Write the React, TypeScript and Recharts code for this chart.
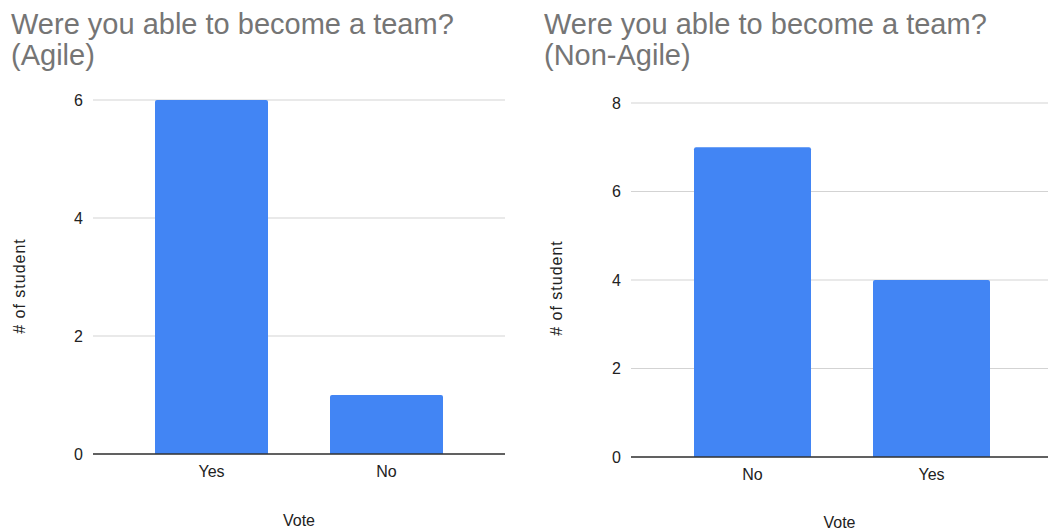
import { BarChart, Bar, XAxis, YAxis, CartesianGrid, Label } from 'recharts';

// Agile survey
const agileVotes = ['Yes', 'No'];
const agileCounts = [6, 1];
const agileTicks = [0, 2, 4, 6];

// Non-agile survey
const nonAgileVotes = ['No', 'Yes'];
const nonAgileCounts = [7, 4];
const nonAgileTicks = [0, 2, 4, 6, 8];

const FONT = 'Arial, "Liberation Sans", sans-serif';
const BLUE = '#4285f4';
const GRID = '#d3d3d3';
const TEXT = '#222222';

const agileData = agileVotes.map((vote, i) => ({ vote, count: agileCounts[i] }));
const nonAgileData = nonAgileVotes.map((vote, i) => ({ vote, count: nonAgileCounts[i] }));

const tickStyle = { fill: TEXT, fontSize: 16, fontFamily: FONT };

function yTitle(x: number, y: number) {
  return () => (
    <text
      x={x}
      y={y}
      dy="0.35em"
      transform={`rotate(-90, ${x}, ${y})`}
      textAnchor="middle"
      fill={TEXT}
      fontSize={16}
      fontFamily={FONT}
      letterSpacing={1}
    >
      # of student
    </text>
  );
}

function Title({ left, sub }: { left: number; sub: string }) {
  return (
    <div
      style={{
        position: 'absolute',
        left,
        top: 9,
        fontFamily: FONT,
        fontSize: 29,
        lineHeight: '31px',
        color: '#757575',
        whiteSpace: 'nowrap',
        zIndex: 2,
      }}
    >
      Were you able to become a team?
      <br />
      {sub}
    </div>
  );
}

export default function App() {
  return (
    <div
      style={{
        position: 'absolute',
        left: 0,
        top: 0,
        width: 1048,
        height: 532,
        background: '#fff',
        overflow: 'hidden',
      }}
    >
      <Title left={11} sub="(Agile)" />
      <Title left={544} sub="(Non-Agile)" />

      <div style={{ position: 'absolute', left: 0, top: 0 }}>
        <BarChart
          width={520}
          height={532}
          data={agileData}
          margin={{ top: 100, right: 15, bottom: 0, left: 0 }}
        >
          <CartesianGrid horizontal vertical={false} stroke={GRID} />
          <XAxis
            dataKey="vote"
            height={78}
            padding={{ left: 31, right: 31 }}
            tickLine={false}
            tickSize={0}
            tickMargin={12}
            axisLine={{ stroke: '#333', strokeWidth: 1.5 }}
            tick={tickStyle}
          >
            <Label value="Vote" position="insideBottom" offset={6} fill={TEXT} fontSize={16} fontFamily={FONT} />
          </XAxis>
          <YAxis
            width={93}
            domain={[0, 6]}
            ticks={agileTicks}
            tickLine={false}
            axisLine={false}
            tickSize={0}
            tickMargin={10}
            tick={tickStyle}
            label={{ content: yTitle(19, 286) }}
          />
          <Bar dataKey="count" fill={BLUE} barSize={113} radius={[2, 2, 0, 0]} isAnimationActive={false} />
        </BarChart>
      </div>

      <div style={{ position: 'absolute', left: 520, top: 0 }}>
        <BarChart
          width={528}
          height={532}
          data={nonAgileData}
          margin={{ top: 103, right: 0, bottom: 0, left: 0 }}
        >
          <CartesianGrid horizontal vertical={false} stroke={GRID} />
          <XAxis
            dataKey="vote"
            height={75}
            padding={{ left: 32, right: 27 }}
            tickLine={false}
            tickSize={0}
            tickMargin={12}
            axisLine={{ stroke: '#333', strokeWidth: 1.5 }}
            tick={tickStyle}
          >
            <Label value="Vote" position="insideBottom" offset={4} fill={TEXT} fontSize={16} fontFamily={FONT} />
          </XAxis>
          <YAxis
            width={111}
            domain={[0, 8]}
            ticks={nonAgileTicks}
            tickLine={false}
            axisLine={false}
            tickSize={0}
            tickMargin={10}
            tick={tickStyle}
            label={{ content: yTitle(36, 288) }}
          />
          <Bar dataKey="count" fill={BLUE} barSize={117} radius={[2, 2, 0, 0]} isAnimationActive={false} />
        </BarChart>
      </div>
    </div>
  );
}
